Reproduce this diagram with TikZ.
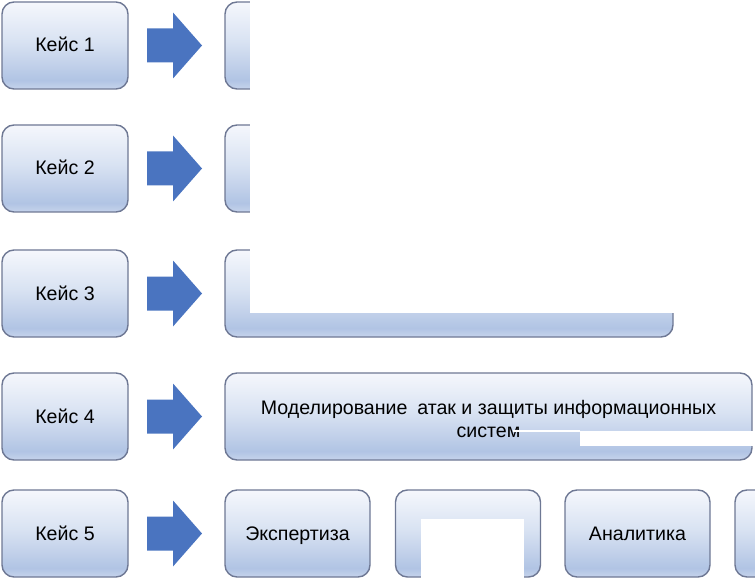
\documentclass[tikz,border=0pt]{standalone}
\usepackage{fontspec}
\setmainfont{Liberation Sans}
\definecolor{arrowblue}{HTML}{4A74C0}
\definecolor{boxline}{HTML}{6E7894}
\definecolor{bshB}{HTML}{C6D4EC}
\definecolor{bshL}{HTML}{B1C4E4}
\definecolor{bshM}{HTML}{D8E2F2}
\definecolor{bshT}{HTML}{F5F7FC}
\pgfdeclareverticalshading{boxshade}{100bp}{color(0bp)=(bshB); color(25bp)=(bshB); color(30bp)=(bshL); color(52bp)=(bshM); color(75bp)=(bshT); color(100bp)=(bshT)}
\newcommand{\lowerby}[2]{\raisebox{-#1}[\height][\depth]{#2}}
\tikzset{
  casebox/.style={draw=boxline, line width=1.4pt, rounded corners=12pt, shading=boxshade,
    inner sep=0pt, align=center, minimum height=87pt, font=\fontsize{19.6}{23}\selectfont},
  leftbox/.style={casebox, minimum width=126pt, text height=15pt, text depth=2pt},
  smallbox/.style={casebox, minimum width=145pt, text height=15pt, text depth=2pt},
  blockarrow/.style={fill=arrowblue, draw=none},
  cover/.style={fill=white, draw=none}
}
\begin{document}
\begin{tikzpicture}[x=1pt,y=-1pt]
\useasboundingbox (0,0) rectangle (755,580);
% left case boxes
\node[leftbox] (k1) at (65,45.5) {Кейс 1};
\node[leftbox] (k2) at (65,168.5) {Кейс 2};
\node[leftbox] (k3) at (65,293.5) {Кейс 3};
\node[leftbox] (k4) at (65,416.5) {Кейс 4};
\node[leftbox] (k5) at (65,533.5) {Кейс 5};
% arrows
\foreach \c in {45.5,168.5,293.5,416.5,533.5}{
  \fill[blockarrow] (147,\c-17) -- (173,\c-17) -- (173,\c-33) -- (202,\c) -- (173,\c+33) -- (173,\c+17) -- (147,\c+17) -- cycle;
}
% right boxes
\node[casebox, minimum width=448pt] (r1) at (449,45.5) {};
\node[casebox, minimum width=448pt] (r2) at (449,168.5) {};
\node[casebox, minimum width=448pt] (r3) at (449,293.5) {};
\node[casebox, minimum width=527pt] (r4) at (488.5,416.5) {\lowerby{2pt}{\parbox{520pt}{\centering Моделирование\enspace атак и защиты информационных\\систем}}};
\node[smallbox] (e1) at (297.5,533.5) {Экспертиза};
\node[smallbox] (e2) at (468,533.5) {};
\node[smallbox] (e3) at (637.5,533.5) {Аналитика};
\node[smallbox] (e4) at (807.5,533.5) {};
% white covers
\fill[cover] (250,-1) rectangle (756,313);
\fill[cover] (580,431) rectangle (756,446);
\fill[cover] (513,430.3) rectangle (580,431.8);
\fill[cover] (421,519) rectangle (524,581);
\end{tikzpicture}
\end{document}
